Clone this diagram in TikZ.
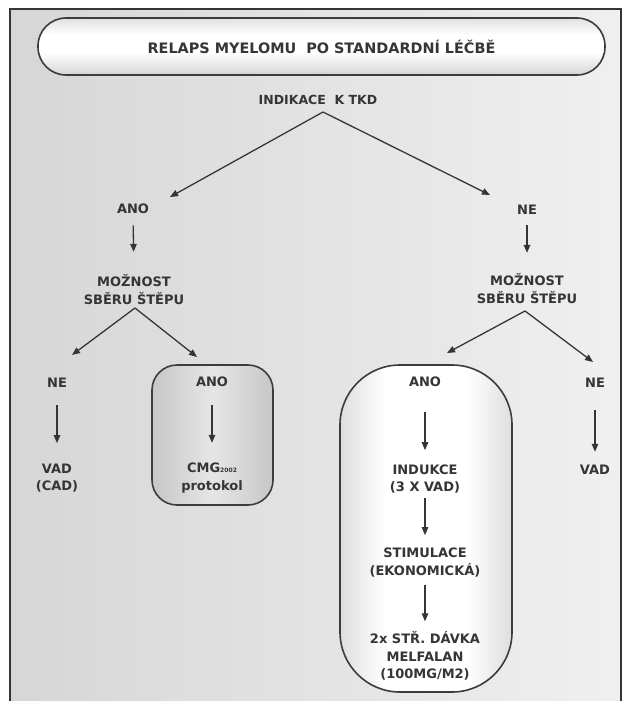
\documentclass[tikz,border=0pt]{standalone}
\usepackage{fontspec}
\setmainfont{DejaVu Sans}
\usetikzlibrary{arrows.meta}
\definecolor{ink}{HTML}{353535}
\definecolor{rim}{HTML}{3c3c3c}

% capsule fills: darker toward the rim, white in the middle
\pgfdeclareverticalshading{pillv}{100bp}{color(0bp)=(black!45); color(30bp)=(black!12); color(45bp)=(white); color(60bp)=(white); color(75bp)=(black!12); color(100bp)=(black!45)}
\pgfdeclarehorizontalshading{pillh}{100bp}{color(0bp)=(black!55); color(20bp)=(black!18); color(38bp)=(white); color(62bp)=(white); color(80bp)=(black!18); color(100bp)=(black!55)}
\pgfdeclarehorizontalshading{boxh}{100bp}{color(0bp)=(black!45); color(25bp)=(black!22); color(50bp)=(black!10); color(75bp)=(black!22); color(100bp)=(black!45)}

\begin{document}
\begin{tikzpicture}[x=1pt,y=-1pt,
  lbl/.style={font=\bfseries\fontsize{13}{17.5}\selectfont, text=ink, align=center, inner sep=0pt},
  arr/.style={draw=ink, line width=1.3pt, -{Triangle[width=6.5pt,length=8pt]}},
  shell/.style={draw=rim, line width=1.6pt}]

\useasboundingbox (0,0) rectangle (627,701);

% page panel
\shade[left color=black!16, right color=black!6] (10,9) rectangle (621,701);
\draw[ink, line width=1.8pt] (10,701) -- (10,9) -- (621,9) -- (621,701);

% heading capsule
\node[shell, shading=pillv, rounded corners=28pt, minimum width=567pt, minimum height=57pt] (head) at (321.5,46.5) {};
\node[lbl, font=\bfseries\fontsize{14.4}{17}\selectfont] (title) at (head) {RELAPS MYELOMU\ \ PO STANDARDNÍ LÉČBĚ};

% group frames
\node[shell, shading=boxh, rounded corners=25pt, minimum width=121pt, minimum height=140pt] (grpA) at (212.5,435) {};
\node[shell, shading=pillh, rounded corners=60pt, minimum width=172pt, minimum height=327pt] (grpB) at (426,528.5) {};

% labels
\node[lbl, font=\bfseries\fontsize{12.5}{17}\selectfont] (ind) at (318,100) {INDIKACE\ \ K TKD};
\coordinate (apex) at (323,112);

\node[lbl] (anoL) at (133,209) {ANO};
\node[lbl] (neR) at (527,210) {NE};
\node[lbl] (mozL) at (134,289.5) {MOŽNOST\\SBĚRU ŠTĚPU};
\node[lbl] (mozR) at (527,288.5) {MOŽNOST\\SBĚRU ŠTĚPU};
\coordinate (apexL) at (135,308);
\coordinate (apexR) at (525,311);

\node[lbl] (neL) at (57,383) {NE};
\node[lbl] (vadL) at (57,478) {VAD\\(CAD)};
\node[lbl] (anoA) at (212,382) {ANO};
\node[lbl] (cmg) at (212,478) {CMG{\fontsize{6}{6}\selectfont 2002}\\protokol};

\node[lbl] (anoB) at (425,382) {ANO};
\node[lbl] (indu) at (425,479) {INDUKCE\\(3 X VAD)};
\node[lbl] (stim) at (425,562.5) {STIMULACE\\(EKONOMICKÁ)};
\node[lbl] (melf) at (425,656) {2x STŘ. DÁVKA\\MELFALAN\\(100MG/M2)};

\node[lbl] (neR2) at (595,383) {NE};
\node[lbl] (vadR) at (595,470) {VAD};

% arrow tips of the branching connectors
\coordinate (tA) at (170,197);
\coordinate (tB) at (490,195);
\coordinate (tC) at (72,355);
\coordinate (tD) at (197,357);
\coordinate (tE) at (447,353);
\coordinate (tF) at (593,362);

% branching connectors
\draw[arr] (apex) -- (tA);
\draw[arr] (apex) -- (tB);
\draw[arr] (apexL) -- (tC);
\draw[arr] (apexL) -- (tD);
\draw[arr] (apexR) -- (tE);
\draw[arr] (apexR) -- (tF);

% downward connectors
\draw[arr, shorten <=11.3pt, shorten >=22.6pt] (anoL.south) -- (mozL.north);
\draw[arr, shorten <=10.3pt, shorten >=20.6pt] (neR.south) -- (mozR.north);
\draw[arr, shorten <=17.3pt, shorten >=20.3pt] (neL.south) -- (vadL.north);
\draw[arr, shorten <=18.3pt, shorten >=20pt] (anoA.south) -- (cmg.north);
\draw[arr, shorten <=25.3pt, shorten >=14.2pt] (anoB.south) -- (indu.north);
\draw[arr, shorten <=4.2pt, shorten >=12.7pt] (indu.south) -- (stim.north);
\draw[arr, shorten <=7.7pt, shorten >=10.1pt] (stim.south) -- (melf.north);
\draw[arr, shorten <=22.3pt, shorten >=13.3pt] (neR2.south) -- (vadR.north);

\end{tikzpicture}
\end{document}
